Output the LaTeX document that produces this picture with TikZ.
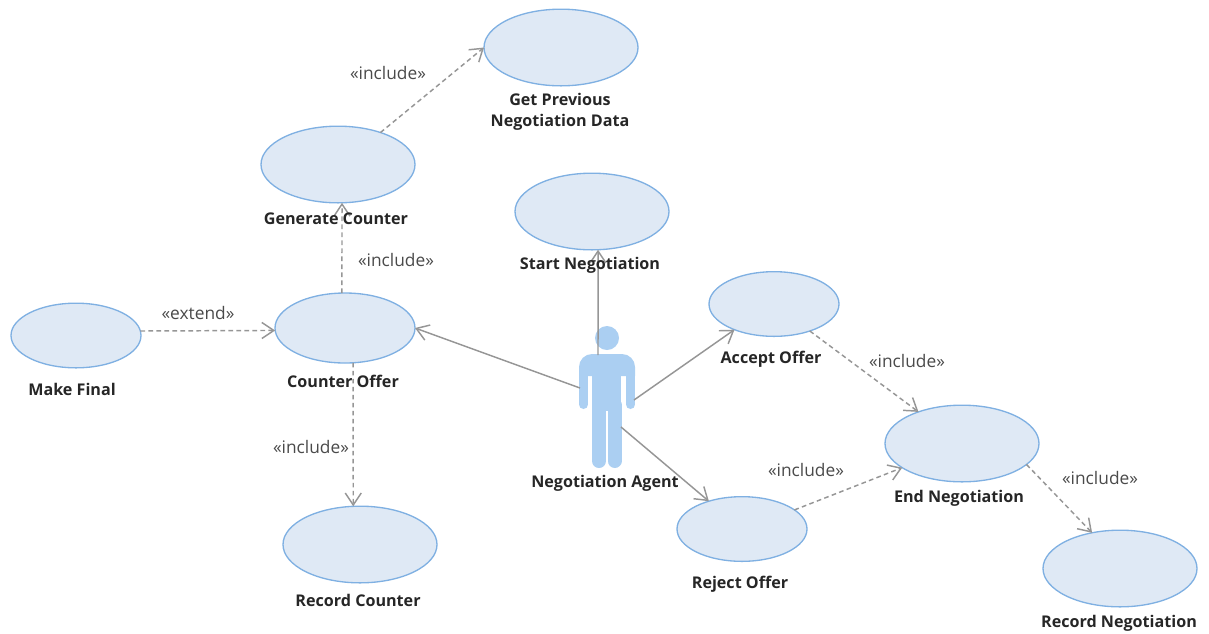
\documentclass[tikz,border=0pt]{standalone}
\usepackage{fontspec}
\setmainfont{Open Sans}
\usetikzlibrary{shapes.geometric,arrows.meta}
\definecolor{ucfill}{HTML}{DFE9F5}
\definecolor{ucline}{HTML}{7FB0E2}
\definecolor{actorblue}{HTML}{ABCFF2}
\definecolor{edgegray}{HTML}{969696}
\definecolor{stereo}{HTML}{4A4A4A}
\tikzset{
  uc/.style={ellipse,draw=ucline,fill=ucfill,line width=1pt,inner sep=0pt,outer sep=0pt},
  ucbig/.style={uc,minimum width=115.5pt,minimum height=57.5pt},
  ucmid/.style={uc,minimum width=105pt,minimum height=52.5pt},
  ucsmall/.style={uc,minimum width=97.5pt,minimum height=48.5pt},
  lab/.style={font=\bfseries\fontsize{12.1pt}{15.75pt}\selectfont,text=black!85,align=center,inner sep=0pt},
  stereotype/.style={font=\fontsize{13pt}{15pt}\selectfont,text=stereo,inner sep=0pt},
  assoc/.style={draw=edgegray,line width=1.1pt,-{Straight Barb[length=9pt,width=12pt]}},
  dep/.style={assoc,dash pattern=on 3.5pt off 2.5pt},
  arm/.style={draw=actorblue,line width=6.75pt,line cap=round},
  leg/.style={draw=actorblue,line width=10.5pt,line cap=round}
}
\begin{document}
\begin{tikzpicture}[x=0.75pt,y=-0.75pt]
\useasboundingbox (0,0) rectangle (1209,633);
% use cases
\node[ucbig] (prev) at (561,47.5) {};
\node[ucbig] (gen) at (338,164.5) {};
\node[ucbig] (start) at (592,211.5) {};
\node[ucsmall] (accept) at (774,304) {};
\node[ucbig] (endn) at (962,443.5) {};
\node[ucsmall] (reject) at (742,529) {};
\node[ucbig] (recneg) at (1120,568.5) {};
\node[ucbig] (reccnt) at (360,544.5) {};
\node[ucmid] (counter) at (345,328) {};
\node[ucsmall] (final) at (76,335.5) {};
% actor
\fill[actorblue] (607,338) circle[radius=9pt];
\fill[actorblue] (579,376) [rounded corners=9.75pt] -- (579,354) -- (635,354) [sharp corners] -- (635,376) -- cycle;
\fill[actorblue] (592,370) rectangle (621,411);
\draw[arm] (583.5,370) -- (583.5,404.5);
\draw[arm] (630.5,370) -- (630.5,404.5);
\draw[leg] (599,405) -- (599,461);
\draw[leg] (614.5,405) -- (614.5,461);
\coordinate (aStart) at (598,355);
\coordinate (aCounter) at (580,388);
\coordinate (aAccept) at (634,400);
\coordinate (aReject) at (621,427);
% connectors
\draw[assoc] (aStart) -- (start.-81);
\draw[assoc] (aCounter) -- (counter.east);
\draw[assoc] (aAccept) -- (accept.213);
\draw[assoc] (aReject) -- (reject.140);
\draw[dep] (final.4) -- (counter.182.5);
\draw[dep] (counter.95) -- (gen.-84);
\draw[dep] (counter.-77) -- (reccnt.100);
\draw[dep] (gen.37) -- (prev.west);
\draw[dep] (accept.-37) -- (endn.144);
\draw[dep] (reject.20) -- (endn.202);
\draw[dep] (endn.-18) -- (recneg.128);
% labels
\node[lab] (lprev) at (560,112) {Get Previous\\Negotiation Data};
\node[lab] (lgen) at (336,218.5) {Generate Counter};
\node[lab] (lstart) at (590,265.5) {Start Negotiation};
\node[lab] (laccept) at (771,359) {Accept Offer};
\node[lab] (lcounter) at (343,381.5) {Counter Offer};
\node[lab] (lfinal) at (72,389.5) {Make Final};
\node[lab] (lagent) at (605,483.5) {Negotiation Agent};
\node[lab] (lend) at (959,498.5) {End Negotiation};
\node[lab] (lreject) at (740,584.5) {Reject Offer};
\node[lab] (lreccnt) at (358,600) {Record Counter};
\node[lab] (lrecneg) at (1119,623.5) {Record Negotiation};
% stereotypes
\node[stereotype] (s1) at (388,73) {«include»};
\node[stereotype] (s2) at (396,260) {«include»};
\node[stereotype] (s3) at (198,313) {«extend»};
\node[stereotype] (s4) at (311,447) {«include»};
\node[stereotype] (s5) at (907,361) {«include»};
\node[stereotype] (s6) at (806,470) {«include»};
\node[stereotype] (s7) at (1100,478) {«include»};
\end{tikzpicture}
\end{document}
